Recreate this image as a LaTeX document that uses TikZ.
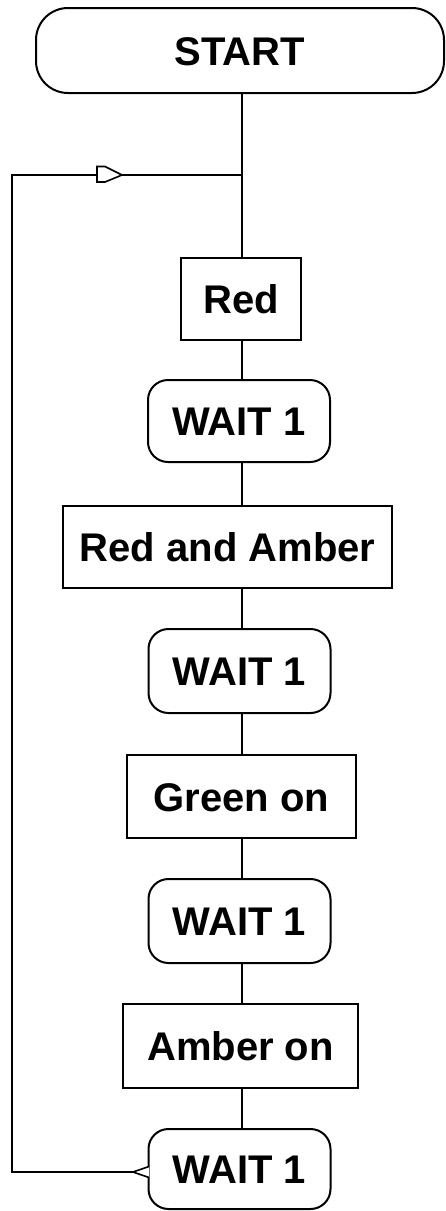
\documentclass[tikz,border=0pt]{standalone}
\usepackage{fontspec}
\setmainfont{Liberation Sans}
\begin{document}
\begin{tikzpicture}[x=1pt,y=-1pt,
  line width=2pt,
  every node/.style={font=\bfseries\fontsize{40}{48}\selectfont, text height=29pt, text depth=0pt, inner sep=0pt},
  procbox/.style={draw, rectangle},
  waitbox/.style={draw, rectangle, rounded corners=20pt, minimum width=182pt},
  termbox/.style={draw, rectangle, rounded corners=32pt},
  arrowmark/.style={draw, fill=white, line width=1.6pt, line join=miter}
]
\useasboundingbox (0,0) rectangle (446,1211);
\node[termbox, minimum width=408pt, minimum height=85pt] (start) at (240,50.5) {START};
\node[procbox, minimum width=120pt, minimum height=82pt] (red) at (241,299) {Red};
\node[waitbox, minimum height=82pt] (w1) at (239,421) {WAIT 1};
\node[procbox, minimum width=329pt, minimum height=82pt] (ra) at (227.5,547) {Red and Amber};
\node[waitbox, minimum height=84pt] (w2) at (239.5,671) {WAIT 1};
\node[procbox, minimum width=229pt, minimum height=83pt] (green) at (241.5,796.5) {Green on};
\node[waitbox, minimum height=84pt] (w3) at (239.5,921) {WAIT 1};
\node[procbox, minimum width=235pt, minimum height=84pt] (amber) at (240.5,1046) {Amber on};
\node[waitbox, minimum height=80pt] (w4) at (239.5,1169) {WAIT 1};
\coordinate (j) at (242,175);
\coordinate (lt) at (12,175);
\coordinate (lb) at (12,1172);
\coordinate (w4in) at (149,1172);
% trunk
\draw (start.south -| j) -- (j) -- (red.north -| j);
\draw (red.south -| j) -- (w1.north -| j);
\draw (w1.south -| j) -- (ra.north -| j);
\draw (ra.south -| j) -- (w2.north -| j);
\draw (w2.south -| j) -- (green.north -| j);
\draw (green.south -| j) -- (w3.north -| j);
\draw (w3.south -| j) -- (amber.north -| j);
\draw (amber.south -| j) -- (w4.north -| j);
% loop back
\draw (w4in) -- (lb) -- (lt) -- (j);
\draw[arrowmark] (97,166.5) -- (105,166.5) -- (122,175) -- (105,182) -- (97,182) -- cycle;
\draw[arrowmark] (w4in) ++(0,-5.5) -- (133,1172) -- (149,1177.5);
\end{tikzpicture}
\end{document}
